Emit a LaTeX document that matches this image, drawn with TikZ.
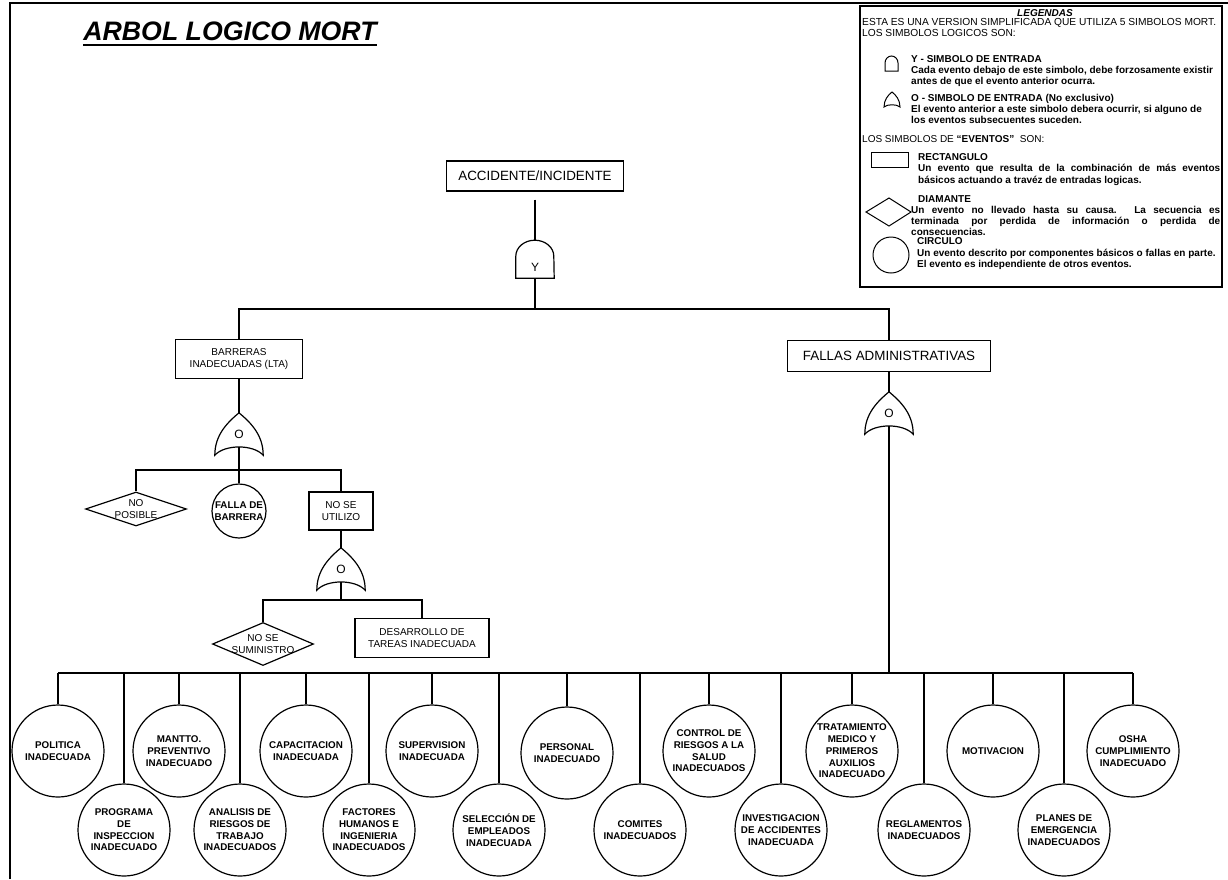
\documentclass[tikz,border=0pt]{standalone}
\usepackage{fontspec}
\setmainfont{Liberation Sans}
\usepackage{tikz}
\usetikzlibrary{shapes.geometric}
\tikzset{
  mortline/.style={line width=1.2pt},
  mortbox/.style={draw,line width=1.2pt,inner sep=2pt,align=center,font=\fontsize{10}{12.3}\selectfont},
  mortevent/.style={draw,circle,line width=1.2pt,inner sep=0pt,minimum size=92pt,align=center,font=\bfseries\fontsize{9.8}{11.7}\selectfont},
  mortdiam/.style={draw,diamond,line width=1.2pt,inner xsep=-20pt,inner ysep=-10pt,aspect=2,align=center,font=\fontsize{10}{12}\selectfont},
  mortgate/.style={inner sep=0pt,font=\fontsize{12}{12}\selectfont},
  mortleg/.style={anchor=north west,inner sep=0pt,align=left,font=\bfseries\fontsize{10}{11}\selectfont},
}
% compuertas Y / O
\newcommand{\mortandgate}[3]{%
  \node[mortgate,minimum width=38pt,minimum height=38pt] (#1) at (#2) {\raisebox{-12pt}[0pt][0pt]{#3}};
  \draw[mortline] (#1.south west) -- ++(0pt,22pt) arc[start angle=180,end angle=0,x radius=19pt,y radius=16pt] -- (#1.south east) -- cycle;}
\newcommand{\mortorgate}[3]{%
  \node[mortgate,minimum width=48pt,minimum height=42pt] (#1) at (#2) {#3};
  \draw[mortline] (#1.south west) .. controls +(0pt,20pt) and +(-12pt,-10pt) .. (#1.north)
    .. controls +(12pt,-10pt) and +(0pt,20pt) .. (#1.south east)
    .. controls +(-10pt,11pt) and +(10pt,11pt) .. (#1.south west) -- cycle;}

\begin{document}
\begin{tikzpicture}[x=1pt,y=-1pt]
\useasboundingbox (0,0) rectangle (1228,879);
\draw[line width=1.5pt] (10,879) -- (10,3) -- (1228,3);
\node[inner sep=0pt,font=\bfseries\itshape\fontsize{26.7}{30}\selectfont] (title) at (230,31) {ARBOL LOGICO MORT};
\draw[line width=2.5pt] ([yshift=-5pt]title.base west) -- ([yshift=-5pt]title.base east);

% leyenda
\draw[line width=1.5pt] (860,6) rectangle (1222,287);
\node[inner sep=0pt,font=\bfseries\itshape\fontsize{10}{10}\selectfont] (legt) at (1045,13) {LEGENDAS};
\node[mortleg,font=\fontsize{10.2}{11}\selectfont] (lega) at (862,18.3) {ESTA ES UNA VERSION SIMPLIFICADA QUE UTILIZA 5 SIMBOLOS MORT.\\LOS SIMBOLOS LOGICOS SON:};
\draw[line width=1pt] (885,71) -- ++(0pt,8pt) arc[start angle=180,end angle=0,x radius=6.5pt,y radius=7pt] -- ++(0pt,-8pt) -- cycle;
\node[mortleg] (legy) at (911,55.3) {Y - SIMBOLO DE ENTRADA\\Cada evento debajo de este simbolo, debe forzosamente existir\\antes de que el evento anterior ocurra.};
\draw[line width=1pt] (884,107) .. controls +(0pt,7pt) and +(-4pt,-3pt) .. (892,92) .. controls +(4pt,-3pt) and +(0pt,7pt) .. (900,107) .. controls +(-3pt,3pt) and +(3pt,3pt) .. (884,107) -- cycle;
\node[mortleg] (lego) at (911,94.3) {O - SIMBOLO DE ENTRADA (No exclusivo)\\El evento anterior a este simbolo debera ocurrir, si alguno de\\los eventos subsecuentes suceden.};
\node[mortleg,font=\fontsize{10}{11}\selectfont] (legev) at (862,135.3) {LOS SIMBOLOS DE \textbf{``EVENTOS''}\ \ SON:};
\draw[line width=1pt] (871,152) rectangle (908,167);
\node[mortleg,font=\bfseries\fontsize{10}{11.5}\selectfont] (legr) at (918,153.3) {RECTANGULO\\\makebox[302pt][s]{Un evento que resulta de la combinación de más eventos}\\básicos actuando a travéz de entradas logicas.};
\draw[line width=1pt] (866,212) -- (889,198) -- (911,212) -- (889,226) -- cycle;
\node[mortleg] (legdt) at (918,195.3) {DIAMANTE};
\node[mortleg] (legd) at (911,206.3) {\makebox[309pt][s]{Un evento no llevado hasta su causa. La secuencia es}\\\makebox[309pt][s]{terminada por perdida de información o perdida de}\\consecuencias.};
\draw[line width=1pt] (891,255) circle[radius=18pt];
\node[mortleg,font=\bfseries\fontsize{10}{11.7}\selectfont] (legc) at (917,237.3) {CIRCULO\\Un evento descrito por componentes básicos o fallas en parte.\\El evento es independiente de otros eventos.};

% arbol
\node[mortbox,minimum width=177pt,minimum height=30pt,font=\fontsize{13.4}{15}\selectfont] (acc) at (535,176) {ACCIDENTE/INCIDENTE};
\mortandgate{gy}{535,259}{Y}
\node[mortbox,minimum width=127pt,minimum height=39pt] (bar) at (239,359) {BARRERAS\\INADECUADAS (LTA)};
\node[mortbox,minimum width=203pt,minimum height=31pt,font=\fontsize{13.4}{15}\selectfont] (fal) at (889,356) {FALLAS ADMINISTRATIVAS};
\mortorgate{gob}{239,434}{O}
\node[mortdiam,minimum width=101pt,minimum height=34pt] (np) at (136,509) {NO\\POSIBLE};
\node[mortevent,minimum size=54pt] (fb) at (239,511) {FALLA DE\\BARRERA};
\node[mortbox,minimum width=64pt,minimum height=38pt] (nsu) at (341,511) {NO SE\\UTILIZO};
\mortorgate{gou}{341,569}{O}
\node[mortdiam,minimum width=101pt,minimum height=43pt] (nss) at (263,644) {NO SE\\SUMINISTRO};
\node[mortbox,minimum width=134pt,minimum height=39pt] (dta) at (422,638) {DESARROLLO DE\\TAREAS INADECUADA};
\mortorgate{gof}{889,413}{O}

% eventos basicos
\node[mortevent] (pol) at (58,751) {POLITICA\\INADECUADA};
\node[mortevent] (man) at (179,751) {MANTTO.\\PREVENTIVO\\INADECUADO};
\node[mortevent] (cap) at (306,751) {CAPACITACION\\INADECUADA};
\node[mortevent] (sup) at (432,751) {SUPERVISION\\INADECUADA};
\node[mortevent] (per) at (567,753) {PERSONAL\\INADECUADO};
\node[mortevent] (con) at (709,751) {CONTROL DE\\RIESGOS A LA\\SALUD\\INADECUADOS};
\node[mortevent] (tra) at (852,751) {TRATAMIENTO\\MEDICO Y\\PRIMEROS\\AUXILIOS\\INADECUADO};
\node[mortevent] (mot) at (993,751) {MOTIVACION};
\node[mortevent] (osh) at (1133,751) {OSHA\\CUMPLIMIENTO\\INADECUADO};
\node[mortevent] (prg) at (124,830) {PROGRAMA\\DE\\INSPECCION\\INADECUADO};
\node[mortevent] (ana) at (240,830) {ANALISIS DE\\RIESGOS DE\\TRABAJO\\INADECUADOS};
\node[mortevent] (fac) at (369,830) {FACTORES\\HUMANOS E\\INGENIERIA\\INADECUADOS};
\node[mortevent] (sel) at (499,830) {SELECCIÓN DE\\EMPLEADOS\\INADECUADA};
\node[mortevent] (com) at (640,830) {COMITES\\INADECUADOS};
\node[mortevent] (inv) at (781,830) {INVESTIGACION\\DE ACCIDENTES\\INADECUADA};
\node[mortevent] (reg) at (924,830) {REGLAMENTOS\\INADECUADOS};
\node[mortevent] (pla) at (1064,830) {PLANES DE\\EMERGENCIA\\INADECUADOS};

% conexiones
\coordinate (lvA) at (0,309);
\coordinate (lvB) at (0,470);
\coordinate (lvC) at (0,600);
\coordinate (lvD) at (0,673);
\draw[mortline,shorten <=8pt] (acc.south) -- (gy.north);
\draw[mortline] (gy.south) -- (gy.south |- lvA);
\draw[mortline] (bar.north) -- (bar.north |- lvA) -| (fal.north);
\draw[mortline] (bar.south) -- (gob.north);
\draw[mortline] ([yshift=8pt]gob.south) -- (fb.north);
\draw[mortline] (np.north) -- (np.north |- lvB) -| (nsu.north);
\draw[mortline] (nsu.south) -- (gou.north);
\draw[mortline] ([yshift=8pt]gou.south) -- (gou.south |- lvC);
\draw[mortline] (nss.north) -- (nss.north |- lvC) -| (dta.north);
\draw[mortline] (fal.south) -- (gof.north);
\draw[mortline] ([yshift=8pt]gof.south) -- (gof.south |- lvD);
\draw[mortline] (pol.north |- lvD) -- (osh.north |- lvD);
\foreach \ev in {pol,prg,man,ana,cap,fac,sup,sel,per,com,con,inv,tra,reg,mot,pla,osh}
  \draw[mortline] (\ev.north) -- (\ev.north |- lvD);
\end{tikzpicture}
\end{document}
